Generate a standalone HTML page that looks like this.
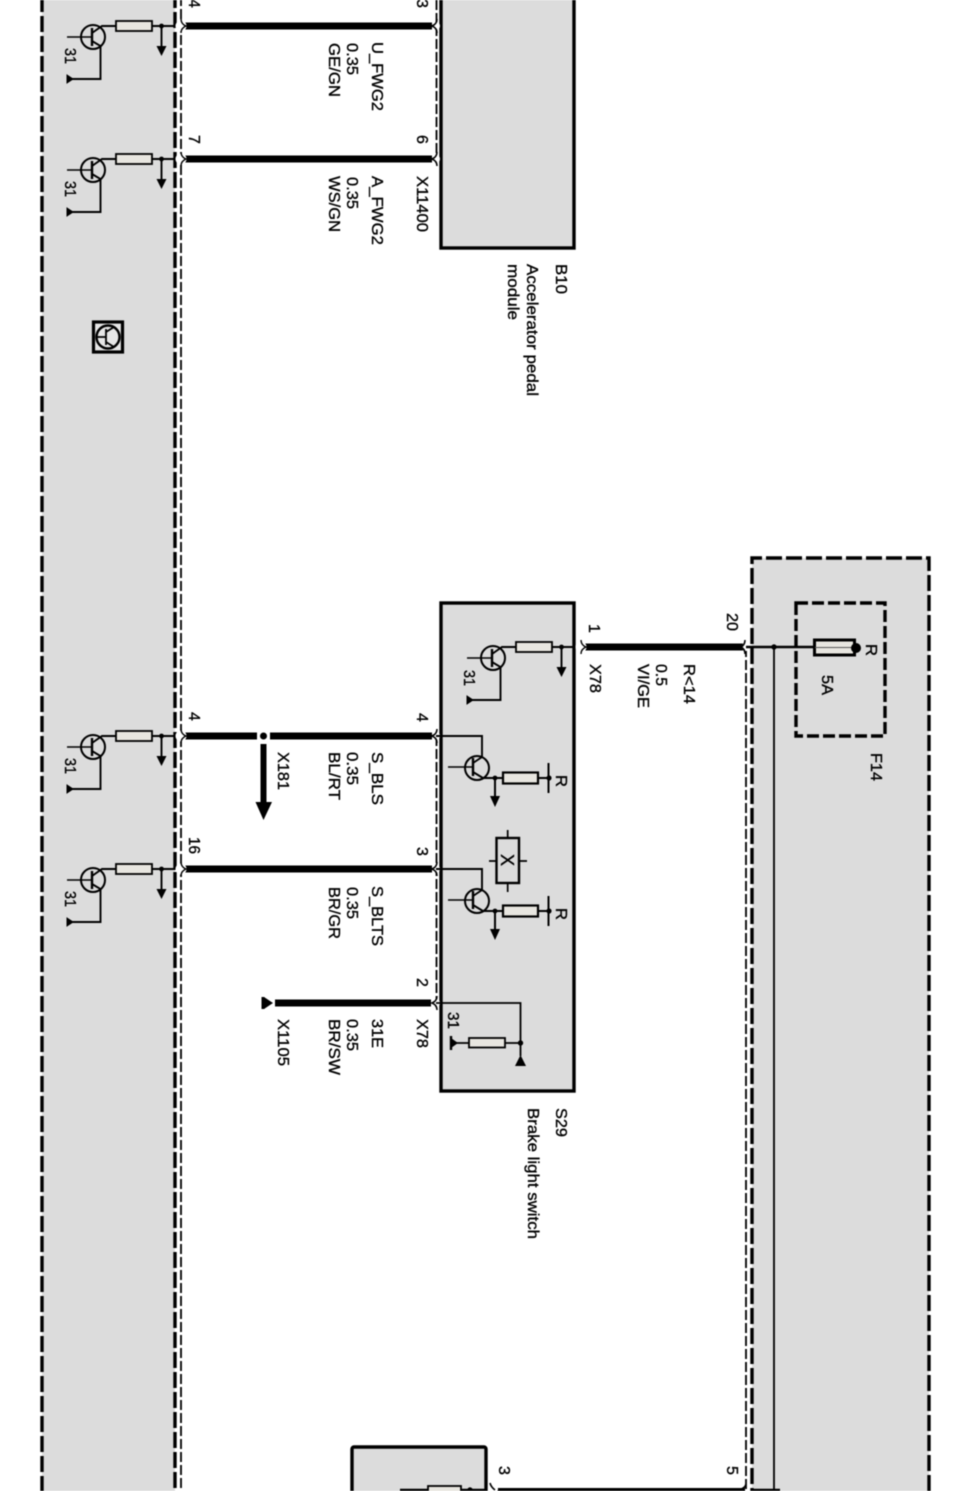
<!DOCTYPE html>
<html>
<head>
<meta charset="utf-8">
<style>
html,body{margin:0;padding:0;background:#fff;}
svg{display:block;filter:blur(0.4px);}
text{font-family:"Liberation Sans",sans-serif;font-size:16px;fill:#000;stroke:#000;stroke-width:0.35px;}
</style>
</head>
<body>
<svg width="962" height="1491" viewBox="0 0 962 1491" xmlns="http://www.w3.org/2000/svg">
<defs>
  <g id="tr">
    <circle cx="93" cy="11" r="12" fill="none" stroke="#000" stroke-width="2"/>
    <path d="M67 11H92" stroke="#000" stroke-width="1.6" fill="none"/>
    <path d="M92 2V20" stroke="#000" stroke-width="2.4" fill="none"/>
    <path d="M92 7L102 0H116M152 0H181M92 15L100.5 20V53H71" stroke="#000" stroke-width="1.9" fill="none"/>
    <rect x="116" y="-5" width="36" height="10" fill="#e8e6e0" stroke="#000" stroke-width="1.8"/>
    <circle cx="161.5" cy="0" r="2.4" fill="#000"/>
    <path d="M161.5 0V22" stroke="#000" stroke-width="1.9"/>
    <path d="M156.5 20H166.5L161.5 30Z" fill="#000"/>
    <path d="M67 49V57L73 53Z" fill="#000" stroke="#000" stroke-width="1"/>
  </g>
  <g id="tr2">
    <circle cx="477" cy="32" r="12" fill="none" stroke="#000" stroke-width="2"/>
    <path d="M448 31H473" stroke="#000" stroke-width="1.6" fill="none"/>
    <path d="M473 22V40" stroke="#000" stroke-width="2.4" fill="none"/>
    <path d="M473 27L482 21V0H436M473 36L483 42H549" stroke="#000" stroke-width="1.9" fill="none"/>
    <rect x="503" y="36.5" width="35" height="11" fill="#e8e6e0" stroke="#000" stroke-width="2.2"/>
    <circle cx="495" cy="42" r="2.4" fill="#000"/>
    <path d="M495 42V62" stroke="#000" stroke-width="2"/>
    <path d="M490 60H500L495 71Z" fill="#000"/>
    <path d="M548.5 27V57" stroke="#000" stroke-width="2"/>
    <circle cx="549" cy="42" r="2.6" fill="#000"/>
  </g>
  <g id="cl">
    <circle cx="181" cy="0" r="5.5" fill="#fff"/>
    <path d="M181 -7Q181 -2 186 0Q181 2 181 7" fill="#fff" stroke="#000" stroke-width="1.4"/>
  </g>
  <g id="cr">
    <circle cx="436" cy="0" r="4" fill="#fff"/>
    <path d="M437 -7Q437 -2 432 0Q437 2 437 7" fill="#fff" stroke="#000" stroke-width="1.6"/>
  </g>
</defs>

<!-- panels -->
<rect x="42" y="-4" width="133" height="1500" fill="#dcdcdc"/>
<rect x="752" y="558" width="177" height="940" fill="#dcdcdc"/>
<rect x="441" y="-6" width="133" height="254" fill="#dcdcdc" stroke="#000" stroke-width="3.4"/>
<rect x="441" y="603" width="133" height="488" fill="#dcdcdc" stroke="#000" stroke-width="3.4"/>
<rect x="352" y="1447" width="134" height="60" rx="2" fill="#dcdcdc" stroke="#000" stroke-width="3.4"/>

<!-- dashed borders -->
<path d="M42 -4V1496" stroke="#000" stroke-width="3.4" stroke-dasharray="16 4" fill="none"/>
<path d="M175 -8V1496" stroke="#000" stroke-width="3.4" stroke-dasharray="16 4" fill="none"/>
<path d="M181 -4V1491" stroke="#000" stroke-width="1.8" stroke-dasharray="10 3" fill="none"/>
<path d="M436.5 0V160M436.5 736V1003" stroke="#000" stroke-width="1.8" stroke-dasharray="10 3" fill="none"/>
<path d="M929 1491V558H752V1491" stroke="#000" stroke-width="3.4" stroke-dasharray="16 4" fill="none"/>
<path d="M746 647V1489" stroke="#000" stroke-width="1.8" stroke-dasharray="10 3" fill="none"/>
<path d="M796 603H885V736H796Z" stroke="#000" stroke-width="3.4" stroke-dasharray="12 4" fill="none"/>

<!-- thick wires -->
<path d="M185 26H432M185 159H432M185 736H432M185 869H432M275 1003H431M583 647H743" stroke="#000" stroke-width="7" fill="none"/>
<path d="M494 1490H745" stroke="#000" stroke-width="4" fill="none"/>

<!-- X181 branch -->
<rect x="257" y="731" width="13" height="10" fill="#fff"/>
<circle cx="263.5" cy="736" r="3.5" fill="#000"/>
<rect x="260.5" y="744" width="6" height="60" fill="#000"/>
<path d="M255.500 802H272L263.500 820Z" fill="#000"/>

<!-- transistor groups in left panel -->
<use href="#tr" transform="translate(0,26)"/>
<use href="#tr" transform="translate(0,159)"/>
<use href="#tr" transform="translate(0,736)"/>
<use href="#tr" transform="translate(0,869)"/>
<use href="#cl" transform="translate(0,26)"/>
<use href="#cl" transform="translate(0,159)"/>
<use href="#cl" transform="translate(0,736)"/>
<use href="#cl" transform="translate(0,869)"/>
<use href="#cr" transform="translate(0,26)"/>
<use href="#cr" transform="translate(0,159)"/>
<use href="#cr" transform="translate(0,736)"/>
<use href="#cr" transform="translate(0,869)"/>
<use href="#cr" transform="translate(0,1003)"/>

<!-- S29 internals -->
<use href="#tr" transform="translate(400,647)"/>
<g transform="translate(400,647)"><use href="#cl"/></g>
<use href="#tr2" transform="translate(0,736)"/>
<use href="#tr2" transform="translate(0,869)"/>
<rect x="496.500" y="838" width="22.500" height="45" fill="#dcdcdc" stroke="#000" stroke-width="2.400"/>
<path d="M507.700 830V838M507.700 883V892M489 861H496M519 861H527" stroke="#000" stroke-width="1.700"/>
<path d="M436 1003H520.500V1056M505 1043H520M469 1043H455" stroke="#000" stroke-width="1.800" fill="none"/>
<rect x="469" y="1038" width="36" height="9.500" fill="#e8e6e0" stroke="#000" stroke-width="1.800"/>
<circle cx="520.500" cy="1043" r="2.700" fill="#000"/>
<path d="M515 1066H526L520.500 1055Z" fill="#000"/>
<path d="M451 1036V1050" stroke="#000" stroke-width="2.400"/>
<path d="M451 1038V1048L458 1043Z" fill="#000"/>
<path d="M263 997V1009" stroke="#000" stroke-width="3"/>
<path d="M264 997V1009L273 1003Z" fill="#000"/>

<!-- fuse side -->
<circle cx="746" cy="647" r="4" fill="#fff"/>
<path d="M745 640Q745 645 741 647Q745 649 745 654" fill="#fff" stroke="#000" stroke-width="1.600"/>
<path d="M746 647H815" stroke="#000" stroke-width="2.400"/>
<circle cx="774" cy="647" r="2.700" fill="#000"/>
<path d="M774 647V1491" stroke="#000" stroke-width="1.800"/>
<rect x="814.500" y="640" width="40" height="15" fill="#e8e6e0" stroke="#000" stroke-width="3"/>
<path d="M815 647.500H853" stroke="#555" stroke-width="1"/>
<circle cx="856" cy="648" r="5" fill="#000"/>

<!-- bottom box details -->
<circle cx="494" cy="1489" r="4" fill="#fff"/>
<path d="M490 1483Q491 1487 495 1490" fill="none" stroke="#000" stroke-width="1.600"/>
<path d="M400 1490H428M461 1490H487" stroke="#000" stroke-width="2.400" fill="none"/>
<rect x="428" y="1486" width="33" height="10" fill="#e8e6e0" stroke="#000" stroke-width="1.800"/>
<circle cx="470" cy="1490" r="2.700" fill="#000"/>
<path d="M746 1484Q745 1488 741 1489" fill="none" stroke="#000" stroke-width="1.600"/>
<path d="M752 1490H780" stroke="#000" stroke-width="2.400"/>

<!-- icon -->
<rect x="93.500" y="322" width="29" height="30" fill="#e6e6e6" stroke="#000" stroke-width="3.200"/>
<circle cx="108" cy="337" r="11.500" fill="#e6e6e6" stroke="#000" stroke-width="2.400"/>
<path d="M96 337H106M106 329V345M106 332L114 327M106 342L114 347" stroke="#000" stroke-width="1.800" fill="none"/>

<!-- labels: left panel 31 -->
<text transform="translate(65,48) rotate(90)" textLength="16" lengthAdjust="spacingAndGlyphs">31</text>
<text transform="translate(65,181) rotate(90)" textLength="16" lengthAdjust="spacingAndGlyphs">31</text>
<text transform="translate(65,758) rotate(90)" textLength="16" lengthAdjust="spacingAndGlyphs">31</text>
<text transform="translate(65,891) rotate(90)" textLength="16" lengthAdjust="spacingAndGlyphs">31</text>
<text transform="translate(464,670) rotate(90)" textLength="16" lengthAdjust="spacingAndGlyphs">31</text>
<text transform="translate(448,1012) rotate(90)" textLength="17" lengthAdjust="spacingAndGlyphs">31</text>

<!-- pin numbers -->
<text transform="translate(189,-1) rotate(90)">4</text>
<text transform="translate(417,-1) rotate(90)">3</text>
<text transform="translate(189,135) rotate(90)">7</text>
<text transform="translate(417,135) rotate(90)">6</text>
<text transform="translate(189,712) rotate(90)">4</text>
<text transform="translate(417,713) rotate(90)">4</text>
<text transform="translate(189,837) rotate(90)" textLength="17" lengthAdjust="spacingAndGlyphs">16</text>
<text transform="translate(417,847) rotate(90)">3</text>
<text transform="translate(417,978) rotate(90)">2</text>
<text transform="translate(589,624) rotate(90)">1</text>
<text transform="translate(727,613) rotate(90)" textLength="18" lengthAdjust="spacingAndGlyphs">20</text>
<text transform="translate(499,1466) rotate(90)">3</text>
<text transform="translate(727,1466) rotate(90)">5</text>

<!-- wire labels -->
<text transform="translate(372,42) rotate(90)" textLength="69" lengthAdjust="spacingAndGlyphs">U_FWG2</text>
<text transform="translate(347,43) rotate(90)" textLength="32" lengthAdjust="spacingAndGlyphs">0.35</text>
<text transform="translate(329,43) rotate(90)" textLength="54" lengthAdjust="spacingAndGlyphs">GE/GN</text>
<text transform="translate(372,176) rotate(90)" textLength="69" lengthAdjust="spacingAndGlyphs">A_FWG2</text>
<text transform="translate(347,177) rotate(90)" textLength="32" lengthAdjust="spacingAndGlyphs">0.35</text>
<text transform="translate(329,176) rotate(90)" textLength="56" lengthAdjust="spacingAndGlyphs">WS/GN</text>
<text transform="translate(417,176) rotate(90)" textLength="56" lengthAdjust="spacingAndGlyphs">X11400</text>
<text transform="translate(556,264) rotate(90)" textLength="30" lengthAdjust="spacingAndGlyphs">B10</text>
<text transform="translate(527,264) rotate(90)" textLength="132" lengthAdjust="spacingAndGlyphs">Accelerator pedal</text>
<text transform="translate(508,264) rotate(90)" textLength="56" lengthAdjust="spacingAndGlyphs">module</text>

<text transform="translate(590,664) rotate(90)" textLength="29" lengthAdjust="spacingAndGlyphs">X78</text>
<text transform="translate(684,664) rotate(90)" textLength="40" lengthAdjust="spacingAndGlyphs">R&lt;14</text>
<text transform="translate(656,664) rotate(90)" textLength="22" lengthAdjust="spacingAndGlyphs">0.5</text>
<text transform="translate(638,664) rotate(90)" textLength="44" lengthAdjust="spacingAndGlyphs">VI/GE</text>

<text transform="translate(372,752) rotate(90)" textLength="53" lengthAdjust="spacingAndGlyphs">S_BLS</text>
<text transform="translate(347,752) rotate(90)" textLength="33" lengthAdjust="spacingAndGlyphs">0.35</text>
<text transform="translate(329,752) rotate(90)" textLength="48" lengthAdjust="spacingAndGlyphs">BL/RT</text>
<text transform="translate(278,752) rotate(90)" textLength="38" lengthAdjust="spacingAndGlyphs">X181</text>

<text transform="translate(372,886) rotate(90)" textLength="60" lengthAdjust="spacingAndGlyphs">S_BLTS</text>
<text transform="translate(347,887) rotate(90)" textLength="32" lengthAdjust="spacingAndGlyphs">0.35</text>
<text transform="translate(329,887) rotate(90)" textLength="52" lengthAdjust="spacingAndGlyphs">BR/GR</text>

<text transform="translate(417,1019) rotate(90)" textLength="29" lengthAdjust="spacingAndGlyphs">X78</text>
<text transform="translate(372,1019) rotate(90)" textLength="29" lengthAdjust="spacingAndGlyphs">31E</text>
<text transform="translate(347,1019) rotate(90)" textLength="32" lengthAdjust="spacingAndGlyphs">0.35</text>
<text transform="translate(329,1019) rotate(90)" textLength="56" lengthAdjust="spacingAndGlyphs">BR/SW</text>
<text transform="translate(278,1019) rotate(90)" textLength="47" lengthAdjust="spacingAndGlyphs">X1105</text>
<text transform="translate(556,1108) rotate(90)" textLength="29" lengthAdjust="spacingAndGlyphs">S29</text>
<text transform="translate(528,1108) rotate(90)" textLength="131" lengthAdjust="spacingAndGlyphs">Brake light switch</text>

<text transform="translate(556,775) rotate(90)" textLength="12" lengthAdjust="spacingAndGlyphs">R</text>
<text transform="translate(556,908) rotate(90)" textLength="12" lengthAdjust="spacingAndGlyphs">R</text>
<text transform="translate(501,854) rotate(90)" style="font-size:18px">X</text>

<text transform="translate(866,644) rotate(90)" textLength="12" lengthAdjust="spacingAndGlyphs">R</text>
<text transform="translate(822,675) rotate(90)" textLength="20" lengthAdjust="spacingAndGlyphs">5A</text>
<text transform="translate(871,753) rotate(90)" textLength="28" lengthAdjust="spacingAndGlyphs">F14</text>
</svg>
</body>
</html>
